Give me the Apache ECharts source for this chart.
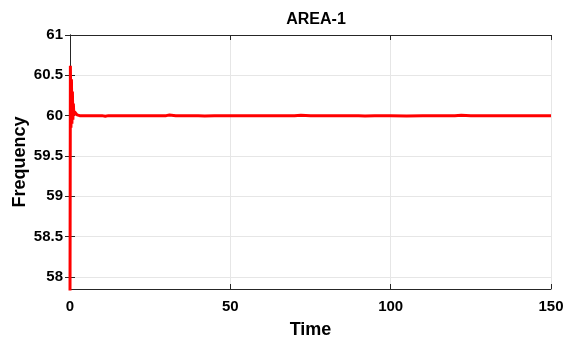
<!DOCTYPE html>
<html>
<head>
<meta charset="utf-8">
<script src="https://cdn.jsdelivr.net/npm/echarts@6/dist/echarts.min.js"></script>
<style>html,body{margin:0;padding:0;background:#fff}#c{width:566px;height:339px}</style>
</head>
<body>
<div id="c"></div>
<script>
var titleText = 'AREA-1';
var xName = 'Time';
var yName = 'Frequency';
var time = [0, 0.12, 0.3, 0.45, 0.6, 0.75, 0.9, 1.05, 1.2, 1.4, 1.7, 2.2, 3, 5, 8, 10, 11, 12, 15, 20, 25, 30, 31, 33, 35, 40, 42, 45, 50, 55, 60, 65, 70, 72, 75, 80, 85, 90, 92, 95, 100, 105, 110, 115, 120, 122, 125, 130, 135, 140, 145, 150];
var freq = [57.7, 60.62, 59.85, 60.45, 59.9, 60.3, 59.95, 60.15, 60.0, 60.05, 60.03, 60.01, 60.0, 60.0, 60.0, 60.0, 59.993, 60.0, 60.0, 60.0, 60.0, 60.0, 60.007, 60.0, 60.0, 60.0, 59.997, 60.0, 60.0, 60.0, 60.0, 60.0, 60.0, 60.006, 60.0, 60.0, 60.0, 60.0, 59.996, 60.0, 60.0, 59.997, 60.0, 60.0, 60.0, 60.004, 60.0, 60.0, 60.0, 60.0, 60.0, 60.0];
var xTicks = [0, 50, 100, 150];
var yTicks = [58, 58.5, 59, 59.5, 60, 60.5, 61];

var pts = time.map(function (t, i) { return [t, freq[i]]; });
var font = 'Liberation Sans, Arial, sans-serif';
var chart = echarts.init(document.getElementById('c'), null, {renderer: 'canvas'});
var axLine = {show: true, lineStyle: {color: '#262626', width: 1}};
var split = {show: true, lineStyle: {color: '#e6e6e6', width: 1}};
function tick(vals) { return {show: true, inside: true, length: 5, customValues: vals, lineStyle: {color: '#262626'}}; }
chart.setOption({
  animation: false,
  title: {text: titleText, left: 311, top: 7, textAlign: 'center',
    textStyle: {fontFamily: font, fontWeight: 'bold', fontSize: 16, color: '#000'}},
  grid: {left: 70, right: 15, top: 35, bottom: 50, outerBoundsMode: 'none', containLabel: false},
  xAxis: [{
    type: 'value', min: 0, max: 150,
    name: xName, nameLocation: 'middle', nameGap: 32, nameMoveOverlap: false,
    nameTextStyle: {fontFamily: font, fontWeight: 'bold', fontSize: 18, color: '#000'},
    axisLine: axLine, axisTick: tick(xTicks),
    axisLabel: {fontFamily: font, fontWeight: 'bold', fontSize: 15, color: '#000', margin: 10, customValues: xTicks},
    splitLine: split
  }, {
    type: 'value', position: 'top', min: 0, max: 150,
    axisLine: axLine, axisTick: tick(xTicks),
    axisLabel: {show: false}, splitLine: {show: false}
  }],
  yAxis: [{
    type: 'value', min: 57.85, max: 61,
    name: yName, nameLocation: 'middle', nameGap: 41, nameMoveOverlap: false,
    nameTextStyle: {fontFamily: font, fontWeight: 'bold', fontSize: 18, color: '#000'},
    axisLine: axLine, axisTick: tick(yTicks),
    axisLabel: {fontFamily: font, fontWeight: 'bold', fontSize: 15, color: '#000', margin: 7, customValues: yTicks},
    splitLine: split
  }, {
    type: 'value', position: 'right', min: 57.85, max: 61,
    axisLine: axLine, axisTick: tick(yTicks),
    axisLabel: {show: false}, splitLine: {show: false}
  }],
  series: [{
    type: 'line', data: pts, xAxisIndex: 0, yAxisIndex: 0,
    showSymbol: false, clip: true,
    lineStyle: {color: '#ff0000', width: 3}
  }]
});
</script>
</body>
</html>
